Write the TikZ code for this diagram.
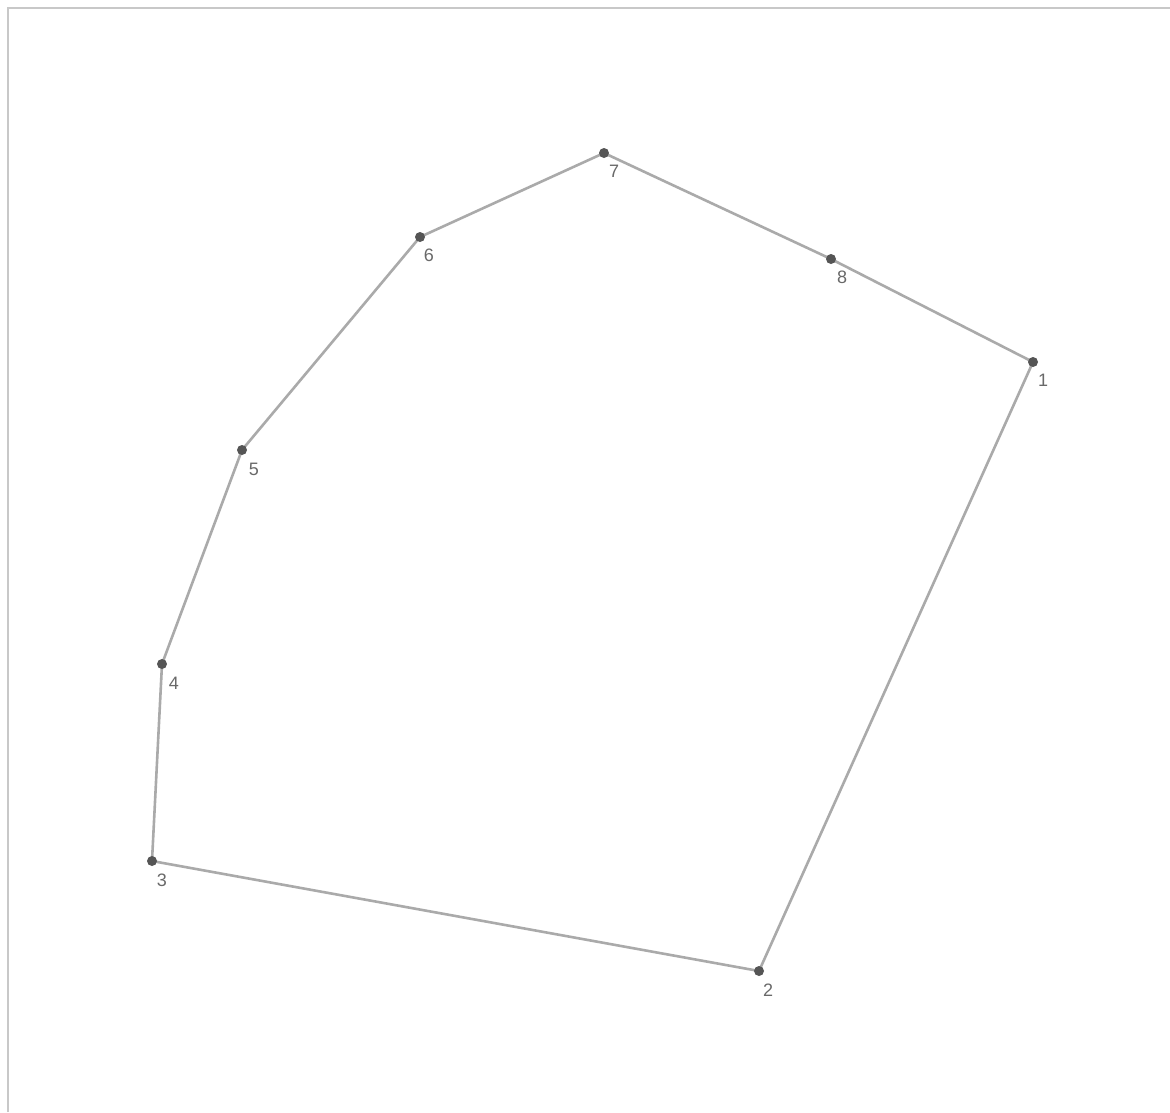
\documentclass[tikz,border=0pt]{standalone}
\usepackage{fontspec}
\setmainfont{Liberation Sans}
\definecolor{edgegray}{RGB}{170,170,170}
\definecolor{dotgray}{RGB}{85,85,85}
\definecolor{labgray}{RGB}{105,105,105}
\definecolor{framegray}{RGB}{200,200,200}
\begin{document}
\begin{tikzpicture}[x=1pt,y=-1pt,
  pt/.style={circle,fill=dotgray,inner sep=0pt,minimum size=10pt},
  lab/.style={text=labgray,font=\fontsize{18}{18}\selectfont,inner sep=0pt},
  edge/.style={draw=edgegray,line width=2.6pt}]
\useasboundingbox[fill=white] (0,0) rectangle (1170,1112);
\draw[framegray,line width=2.5pt] (8,1112) -- (8,8) -- (1170,8);
\coordinate (p1) at (1033,362);
\coordinate (p2) at (759,971);
\coordinate (p3) at (152,861);
\coordinate (p4) at (162,664);
\coordinate (p5) at (242,450);
\coordinate (p6) at (420,237);
\coordinate (p7) at (604,153);
\coordinate (p8) at (831,259);
\draw[edge] (p1) -- (p2) -- (p3) -- (p4) -- (p5) -- (p6) -- (p7) -- (p8) -- cycle;
\foreach \i in {1,...,8} { \node[pt] (d\i) at (p\i) {}; }
\node[lab] (l1) at (1043,380) {1};
\node[lab] (l2) at (768,990) {2};
\node[lab] (l3) at (162,880) {3};
\node[lab] (l4) at (174,683) {4};
\node[lab] (l5) at (254,469) {5};
\node[lab] (l6) at (429,255) {6};
\node[lab] (l7) at (614,171) {7};
\node[lab] (l8) at (842,277) {8};
\end{tikzpicture}
\end{document}
